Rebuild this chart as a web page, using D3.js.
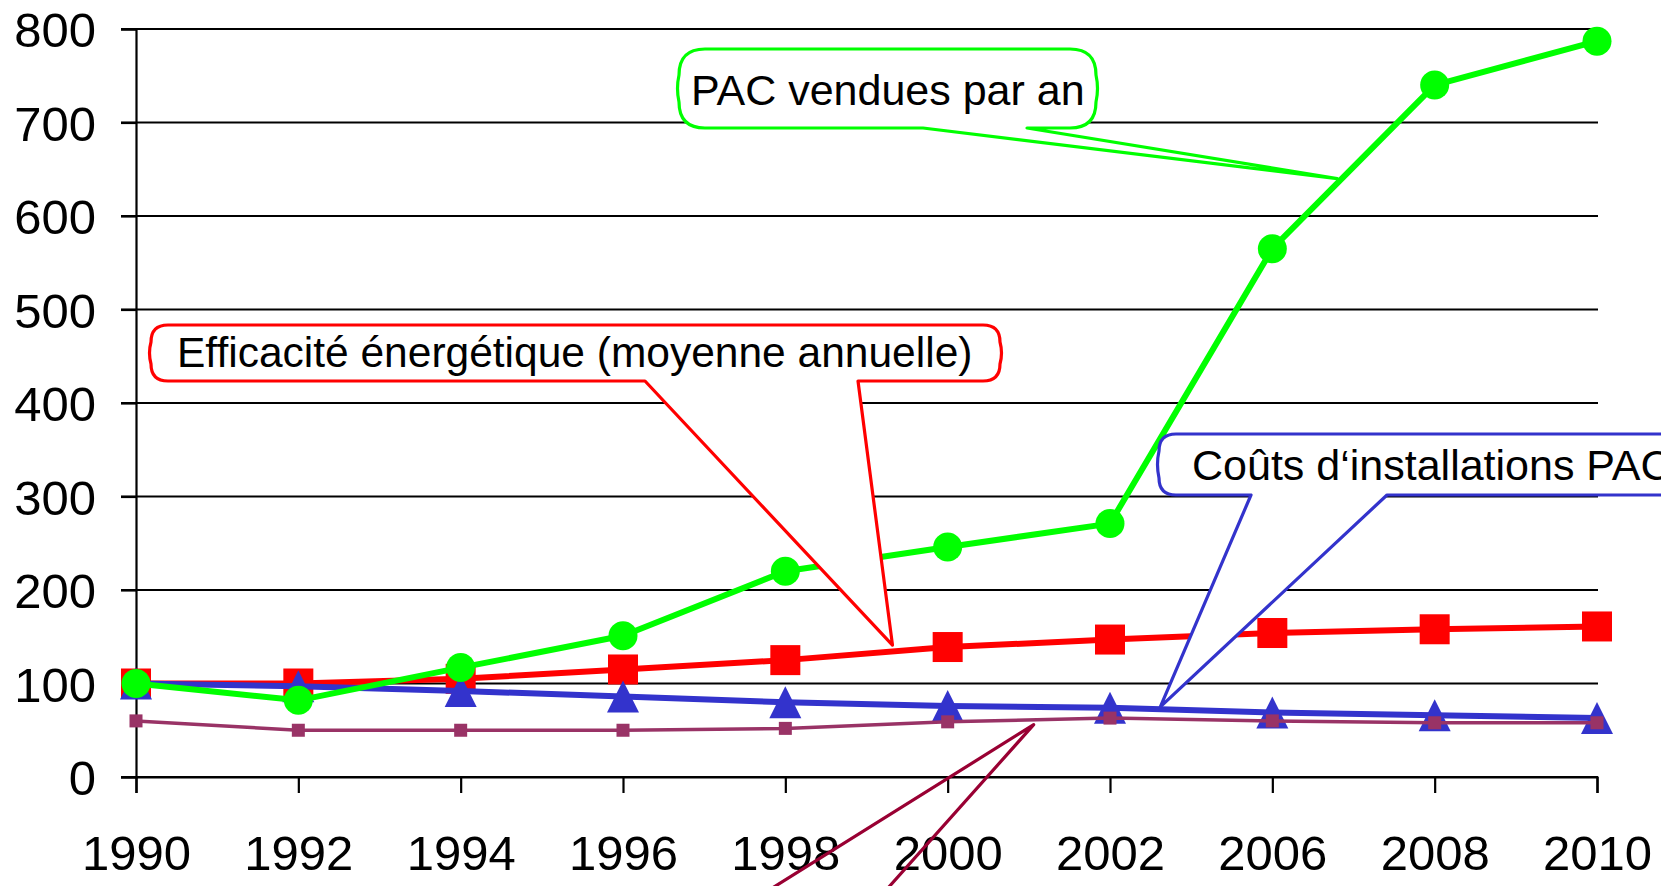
<!DOCTYPE html>
<html>
<head>
<meta charset="utf-8">
<script src="https://cdn.jsdelivr.net/npm/d3@7"></script>
<style>
  html, body { margin: 0; padding: 0; background: #fff; overflow: hidden; }
  text { font-family: "Liberation Sans", Arial, sans-serif; fill: #000; }
</style>
</head>
<body>
<script>
// chart data
var years = ['1990', '1992', '1994', '1996', '1998', '2000', '2002', '2006', '2008', '2010'];
var pacVendues = [100, 82, 117, 151, 220, 246, 271, 565, 740, 787];
var efficacite = [100, 100, 105, 115, 125, 139, 147, 154, 158, 161];
var couts = [100, 97, 92, 86, 80, 76, 74, 69, 66, 63];
var autre = [60, 50, 50, 50, 52, 59, 63, 60, 58, 58];
var yTicks = [0, 100, 200, 300, 400, 500, 600, 700, 800];

var width = 1661;
var height = 886;

var svg = d3.select('body').append('svg')
  .attr('width', width)
  .attr('height', height);

var x = d3.scalePoint()
  .domain(years)
  .range([136, 1597]);

var y = d3.scaleLinear()
  .domain([0, 800])
  .range([777, 29]);

// position between two categories (i may be fractional)
function xAt(i) {
  return x(years[0]) + i * x.step();
}

// gridlines (they also make the left ticks)
svg.append('g')
  .selectAll('line')
  .data(yTicks)
  .enter().append('line')
  .attr('x1', 121)
  .attr('x2', x(years[years.length - 1]) + 1)
  .attr('y1', d => y(d))
  .attr('y2', d => y(d))
  .attr('stroke', '#000')
  .attr('stroke-width', 2.2);

// y axis
var yAxis = svg.append('g')
  .attr('transform', 'translate(136,0)')
  .call(d3.axisLeft(y).tickValues(yTicks).tickSize(15).tickPadding(25));
yAxis.select('.domain').attr('stroke-width', 2.2);
yAxis.selectAll('.tick line').attr('stroke-width', 2.2);
yAxis.selectAll('text')
  .style('font-size', '49px')
  .style('font-family', '"Liberation Sans", Arial, sans-serif')
  .attr('dy', '0.36em');

// x axis
var xAxis = svg.append('g')
  .attr('transform', 'translate(0,' + y(0) + ')')
  .call(d3.axisBottom(x).tickSize(16).tickPadding(42));
xAxis.select('.domain').attr('stroke-width', 2.2);
xAxis.selectAll('.tick line').attr('stroke-width', 2.2);
xAxis.selectAll('text')
  .style('font-size', '49px')
  .style('font-family', '"Liberation Sans", Arial, sans-serif');

var line = d3.line()
  .x((d, i) => x(years[i]))
  .y(d => y(d));

function drawLine(values, color, w) {
  svg.append('path')
    .datum(values)
    .attr('d', line)
    .attr('fill', 'none')
    .attr('stroke', color)
    .attr('stroke-width', w)
    .attr('stroke-linejoin', 'round');
}

// red: efficacite, squares
drawLine(efficacite, '#ff0000', 6);
svg.append('g').selectAll('rect')
  .data(efficacite)
  .enter().append('rect')
  .attr('x', (d, i) => x(years[i]) - 15)
  .attr('y', d => y(d) - 15)
  .attr('width', 30)
  .attr('height', 30)
  .attr('fill', '#ff0000');

// blue: couts, triangles
drawLine(couts, '#3333cc', 6);
svg.append('g').selectAll('path')
  .data(couts)
  .enter().append('path')
  .attr('d', (d, i) => {
    var cx = x(years[i]), cy = y(d);
    return 'M' + cx + ',' + (cy - 16) + 'L' + (cx + 16) + ',' + (cy + 16) + 'L' + (cx - 16) + ',' + (cy + 16) + 'Z';
  })
  .attr('fill', '#3333cc');

// purple: small squares
drawLine(autre, '#993366', 3.5);
svg.append('g').selectAll('rect')
  .data(autre)
  .enter().append('rect')
  .attr('x', (d, i) => x(years[i]) - 6.5)
  .attr('y', d => y(d) - 6.5)
  .attr('width', 13)
  .attr('height', 13)
  .attr('fill', '#993366');

// green: PAC vendues, circles
drawLine(pacVendues, '#00ff00', 6);
svg.append('g').selectAll('circle')
  .data(pacVendues)
  .enter().append('circle')
  .attr('cx', (d, i) => x(years[i]))
  .attr('cy', d => y(d))
  .attr('r', 14.5)
  .attr('fill', '#00ff00');

// callouts: box in pixels, wedge base on bottom edge, tip in data terms
function calloutPath(b) {
  var r = b.r, tx = xAt(b.tipAt), ty = y(b.tipVal);
  var bx = 3; // slight bulge of the sides
  return 'M' + (b.x0 + r) + ',' + b.y0 +
    'H' + (b.x1 - r) + 'Q' + b.x1 + ',' + b.y0 + ' ' + b.x1 + ',' + (b.y0 + r) +
    'Q' + (b.x1 + bx) + ',' + ((b.y0 + b.y1) / 2) + ' ' + b.x1 + ',' + (b.y1 - r) +
    'Q' + b.x1 + ',' + b.y1 + ' ' + (b.x1 - r) + ',' + b.y1 +
    'H' + b.baseB + 'L' + tx + ',' + ty + 'L' + b.baseA + ',' + b.y1 +
    'H' + (b.x0 + r) + 'Q' + b.x0 + ',' + b.y1 + ' ' + b.x0 + ',' + (b.y1 - r) +
    'Q' + (b.x0 - bx) + ',' + ((b.y0 + b.y1) / 2) + ' ' + b.x0 + ',' + (b.y0 + r) +
    'Q' + b.x0 + ',' + b.y0 + ' ' + (b.x0 + r) + ',' + b.y0 + 'Z';
}

var callouts = [
  { text: 'PAC vendues par an', color: '#00ff00', size: 43,
    x0: 679, y0: 49, x1: 1096, y1: 128, r: 26, baseA: 923, baseB: 1027,
    tipAt: 7.4, tipVal: 640, tx: 691, ty: 105 },
  { text: 'Efficacité énergétique (moyenne annuelle)', color: '#ff0000', size: 42.5,
    x0: 151, y0: 325, x1: 1000, y1: 381, r: 17, baseA: 645, baseB: 858,
    tipAt: 4.66, tipVal: 141, tx: 177, ty: 367 },
  { text: 'Coûts d\u2018installations PAC', color: '#3333cc', size: 43,
    x0: 1159, y0: 434, x1: 1720, y1: 495, r: 17, baseA: 1251, baseB: 1387,
    tipAt: 6.31, tipVal: 75, tx: 1192, ty: 480 }
];

callouts.forEach(function(b) {
  svg.append('path')
    .attr('d', calloutPath(b))
    .attr('fill', '#fff')
    .attr('stroke', b.color)
    .attr('stroke-width', 3.2)
    .attr('stroke-linejoin', 'round');
  svg.append('text')
    .attr('x', b.tx)
    .attr('y', b.ty)
    .style('font-size', b.size + 'px')
    .text(b.text);
});

// purple callout: only its wedge shows, the box is below the picture
var purpleTip = [xAt(5.53), y(56)];
svg.append('path')
  .attr('d', 'M' + (purpleTip[0] - 400) + ',' + (purpleTip[1] + 250) +
    'L' + purpleTip[0] + ',' + purpleTip[1] +
    'L' + (purpleTip[0] - 223) + ',' + (purpleTip[1] + 250))
  .attr('fill', 'none')
  .attr('stroke', '#990033')
  .attr('stroke-width', 3.2)
  .attr('stroke-linejoin', 'round');
</script>
</body>
</html>
